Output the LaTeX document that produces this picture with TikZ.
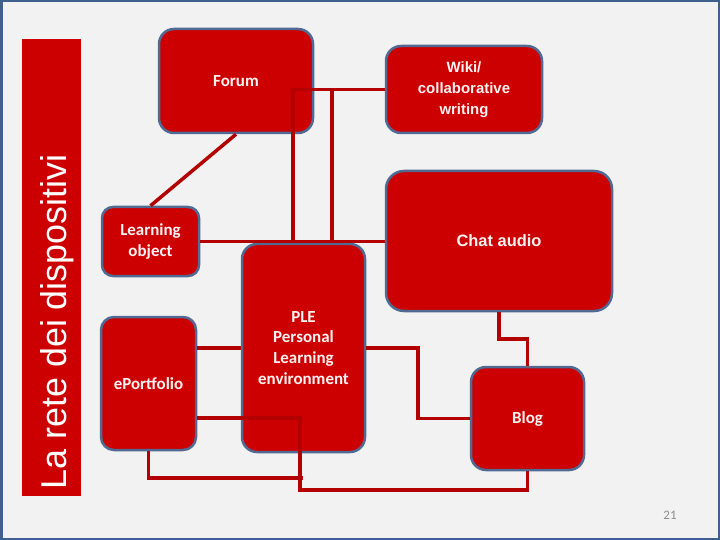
\documentclass[tikz,border=0pt]{standalone}
\usepackage{fontspec}
\setmainfont{Carlito}
\newfontfamily\arialfont{Liberation Sans}
\definecolor{bgcol}{HTML}{F2F2F2}
\definecolor{framecol}{HTML}{3F5F8F}
\definecolor{boxedge}{HTML}{506A94}
\definecolor{boxred}{HTML}{CC0000}
\definecolor{linkred}{HTML}{B30000}
\definecolor{boxtext}{HTML}{FFF2F2}
\definecolor{pagenum}{HTML}{8C8C8C}
\begin{document}
\begin{tikzpicture}[x=1bp,y=-1bp,
  box/.style={draw=boxedge, line width=2.5bp, fill=boxred, text=boxtext, align=center,
    inner sep=0pt, rounded corners=#1, font=\bfseries\fontsize{17}{21}\selectfont},
  box/.default=14bp,
  arialbox/.style={font=\arialfont\bfseries\fontsize{#1}{21}\selectfont},
  link/.style={draw=linkred, line width=3.5bp}]
\useasboundingbox (0,0) rectangle (720,540);
\fill[bgcol] (0,0) rectangle (720,540);
\draw[framecol, line width=2.5bp] (1.25,1.25) rectangle (718.75,538.75);

% side bar
\fill[boxred] (22,39) rectangle (81,496);
\node[rotate=90, anchor=base, text=white, font=\arialfont\fontsize{36}{40}\selectfont, inner sep=0pt]
  (title) at (66,322) {La rete dei dispositivi};

% boxes
\node[box=15bp, minimum width=154bp, minimum height=104bp] (forum) at (236,81) {Forum};
\node[box=15bp, arialbox=15, minimum width=156bp, minimum height=87bp] (wiki) at (464,89.5)
  {Wiki/\\collaborative\\writing};
\node[box=18bp, arialbox=16.5, minimum width=226bp, minimum height=140bp] (chat) at (499,241) {Chat audio};
\node[box=11bp, minimum width=97bp, minimum height=69bp] (lo) at (150.5,241.5) {Learning\\object};
\node[box=13bp, minimum width=95bp, minimum height=133bp] (eport) at (148.5,383.5) {ePortfolio};
\node[box=15bp, minimum width=123bp, minimum height=208bp] (ple) at (303.5,348)
  {PLE\\Personal\\Learning\\environment};
\node[box=15bp, minimum width=113bp, minimum height=103bp] (blog) at (527.5,418.5) {Blog};

\node[text=pagenum, font=\fontsize{13}{15}\selectfont, inner sep=0pt] (pnum) at (670,515) {21};

% junction coordinates
\coordinate (j1) at (293,240);
\coordinate (j2) at (332,240);
\coordinate (c1) at (300,490);
\coordinate (c2) at (303,478);
\coordinate (c3) at (418,418.5);
\coordinate (c4) at (527.5,339);

% connectors
\draw[link] (forum.south) -- (lo.north);
\draw[link] (wiki.west) -| (j1);
\draw[link] (wiki.west) -| (j2);
\draw[link] (lo.east) -- (lo.east -| chat.west);
\draw[link] (ple.west) -- (ple.west -| eport.east);
\draw[link] ([yshift=-34.5bp]eport.east) -| (c1) -| (blog.south);
\draw[link] (eport.south) |- (c2);
\draw[link] (ple.east) -| (c3) -- (blog.west);
\draw[link] (chat.south) |- (c4) -- (blog.north);
\end{tikzpicture}
\end{document}
